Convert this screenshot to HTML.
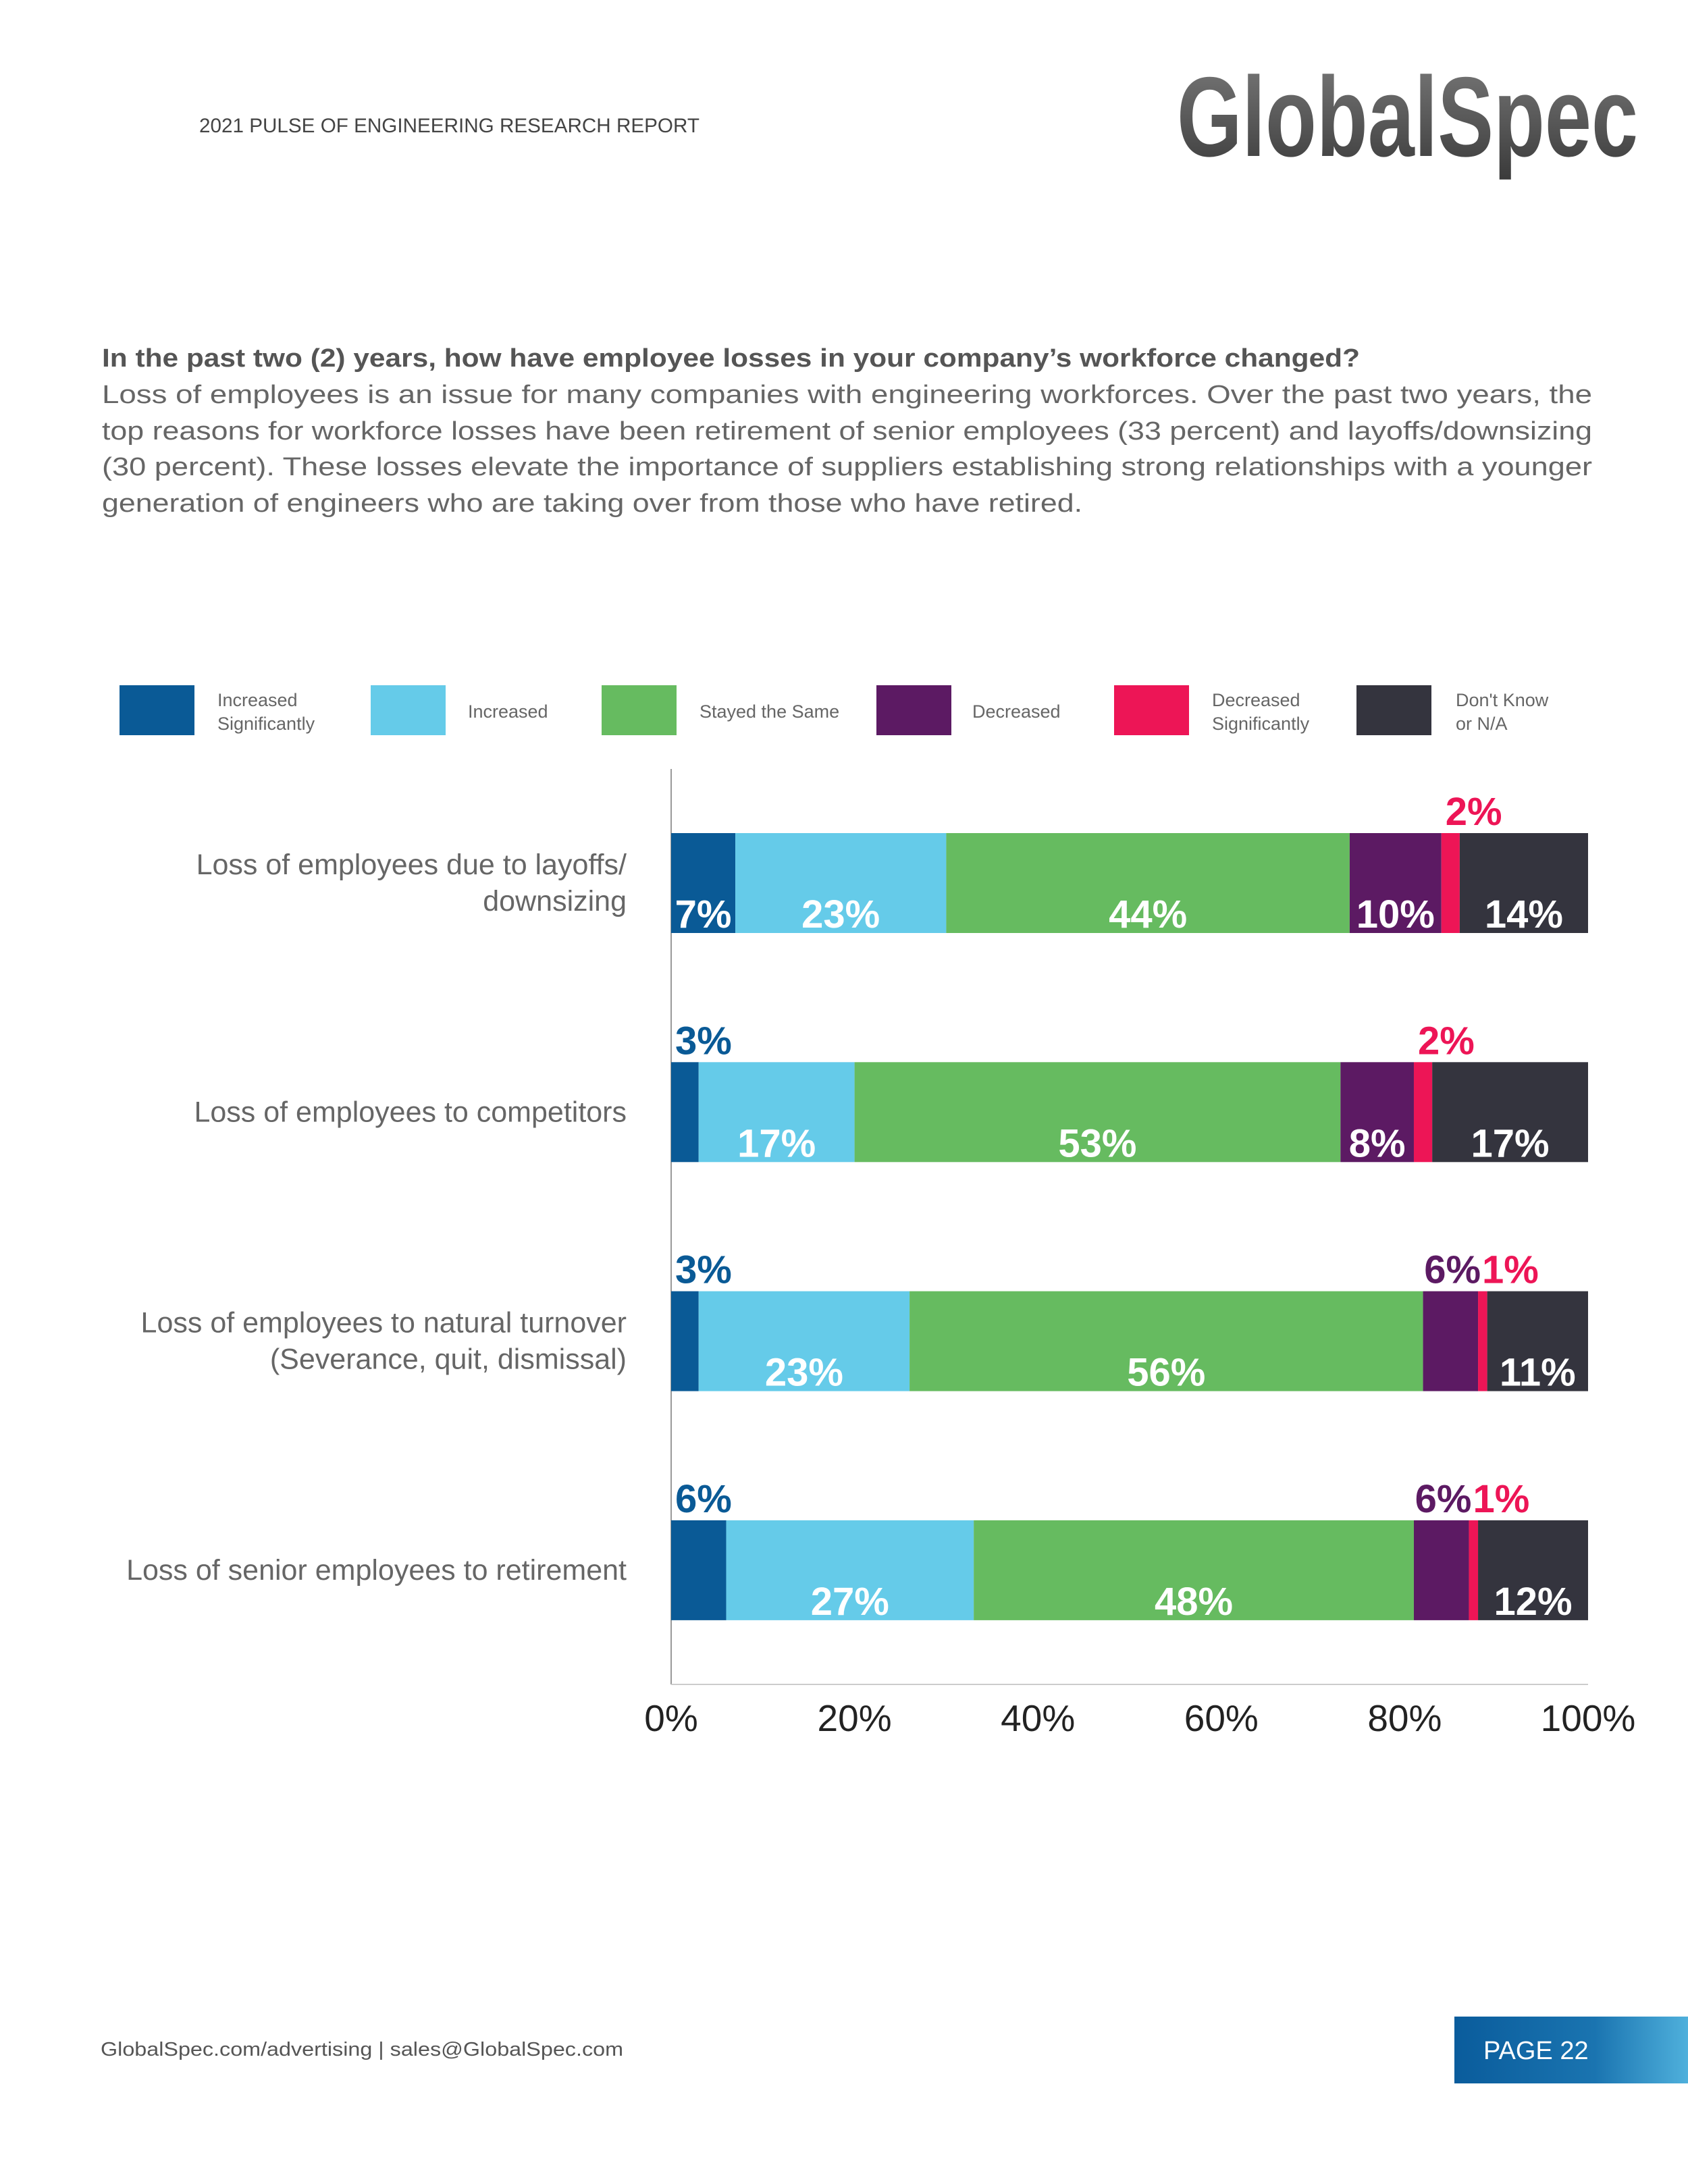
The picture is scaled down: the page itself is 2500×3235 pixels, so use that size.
<!DOCTYPE html>
<html><head><meta charset="utf-8"><style>
html,body{margin:0;padding:0;background:#fff}
body{width:2500px;height:3235px;position:relative;overflow:hidden;font-family:"Liberation Sans",sans-serif}
.abs{position:absolute}
</style></head><body>
<svg class="abs" style="left:0;top:0" width="2500" height="3235" id="chart">
<defs><linearGradient id="lg" x1="0" y1="0" x2="0" y2="1"><stop offset="0" stop-color="#7a7a7a"/><stop offset="1" stop-color="#3a3a3a"/></linearGradient>
<linearGradient id="pg" x1="0" y1="0" x2="1" y2="0"><stop offset="0" stop-color="#0a5c9c"/><stop offset="0.6" stop-color="#1a74b0"/><stop offset="1" stop-color="#4fb0dc"/></linearGradient></defs>
<text x="295" y="196" font-size="30" fill="#444" textLength="741" lengthAdjust="spacingAndGlyphs">2021 PULSE OF ENGINEERING RESEARCH REPORT</text>
<text x="1743" y="231" font-size="168" font-weight="bold" fill="url(#lg)" textLength="683" lengthAdjust="spacingAndGlyphs">GlobalSpec</text>
<text x="151" y="543" font-size="38" font-weight="bold" fill="#555" textLength="1863" lengthAdjust="spacingAndGlyphs">In the past two (2) years, how have employee losses in your company’s workforce changed?</text>
<g font-size="38" fill="#666">
<text x="151" y="597" textLength="2207" lengthAdjust="spacingAndGlyphs">Loss of employees is an issue for many companies with engineering workforces. Over the past two years, the</text>
<text x="151" y="651" textLength="2207" lengthAdjust="spacingAndGlyphs">top reasons for workforce losses have been retirement of senior employees (33 percent) and layoffs/downsizing</text>
<text x="151" y="704" textLength="2207" lengthAdjust="spacingAndGlyphs">(30 percent). These losses elevate the importance of suppliers establishing strong relationships with a younger</text>
<text x="151" y="758" textLength="1452" lengthAdjust="spacingAndGlyphs">generation of engineers who are taking over from those who have retired.</text>
</g>
<text x="149" y="3045" font-size="29" fill="#555" textLength="774" lengthAdjust="spacingAndGlyphs">GlobalSpec.com/advertising  |  sales@GlobalSpec.com</text>
<rect x="2154" y="2987" width="346" height="99" fill="url(#pg)"/>
<text x="2197" y="3050" font-size="38" fill="#fff">PAGE 22</text>
</svg>
<script>
const categories=[["Loss of employees due to layoffs/","downsizing"],["Loss of employees to competitors"],["Loss of employees to natural turnover","(Severance, quit, dismissal)"],["Loss of senior employees to retirement"]];
const seriesNames=["Increased Significantly","Increased","Stayed the Same","Decreased","Decreased Significantly","Don't Know or N/A"];
const legendLines=[["Increased","Significantly"],["Increased"],["Stayed the Same"],["Decreased"],["Decreased","Significantly"],["Don't Know","or N/A"]];
const incSig=[7,3,3,6];
const inc=[23,17,23,27];
const same=[44,53,56,48];
const dec=[10,8,6,6];
const decSig=[2,2,1,1];
const dontKnow=[14,17,11,12];
const ticks=[0,20,40,60,80,100];
const colors=["#0a5a96","#65cbe9","#66bb60","#5c1a63","#ed1556","#34343e"];
const series=[incSig,inc,same,dec,decSig,dontKnow];
const svg=document.getElementById('chart');const NS='http://www.w3.org/2000/svg';
function mk(t,a,txt){const e=document.createElementNS(NS,t);for(const k in a)e.setAttribute(k,a[k]);if(txt!=null)e.textContent=txt;svg.appendChild(e);return e;}
const x0=994,x1=2352;const X=v=>x0+v/100*(x1-x0);
const rowTop=i=>1234+i*339.3;const barH=148;
const lgSw=[177,549,891,1298,1650,2009],lgTx=[322,693,1036,1440,1795,2156];
legendLines.forEach((l,i)=>{
 const r=mk('rect',{x:lgSw[i],y:1015,width:111,height:74,fill:colors[i]});
 
 
 l.forEach((s,j)=>{const t=mk('text',{x:lgTx[i],y:(l.length==1?1063:1046+j*35),'font-size':27,fill:'#666','font-family':'Liberation Sans'},s);
 
 });
});
const ay=mk('line',{x1:x0,x2:x0,y1:1139,y2:2495,stroke:'#999','stroke-width':2});


const ax=mk('line',{x1:x0,x2:x1,y1:2495,y2:2495,stroke:'#ccc','stroke-width':2});


ticks.forEach(t=>{const e=mk('text',{x:X(t),y:2564,'font-size':55,fill:'#222','text-anchor':'middle','font-family':'Liberation Sans'},t+'%');
 
 });
categories.forEach((c,i)=>{
 const top=rowTop(i);
 c.forEach((s,j)=>{const y=top+barH/2+14+(c.length==2?(j==0?-27:27):0);
  const e=mk('text',{x:928,y:y,'font-size':43,fill:'#666','text-anchor':'end','font-family':'Liberation Sans'},s);
  
  });
 let cum=0;
 const vals=series.map(s=>s[i]);
 vals.forEach((v,k)=>{
  const a=X(cum),b=X(cum+v);cum+=v;
  const r=mk('rect',{x:a,y:top,width:b-a,height:barH,fill:colors[k]});
  
  
  const out=v<7;let t;
  if(!out){t=mk('text',{x:(a+b)/2,y:top+barH-8,'font-size':58,'font-weight':'bold',fill:'#fff','text-anchor':'middle','font-family':'Liberation Sans'},v+'%');}
  else{const nextOut=k<5&&vals[k+1]<7;
   t=mk('text',{x:nextOut?b+4:a+6,y:top-12,'font-size':58,'font-weight':'bold',fill:colors[k],'text-anchor':nextOut?'end':'start','font-family':'Liberation Sans'},v+'%');}
  
  
 });
});
</script>
</body></html>
